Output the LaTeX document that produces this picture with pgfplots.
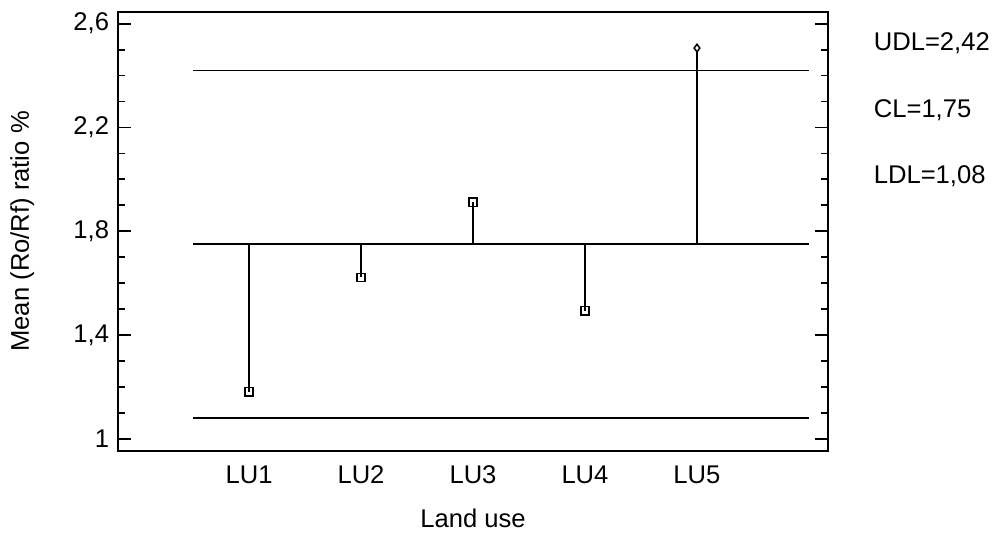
\documentclass[border=0pt]{standalone}
\usepackage{pgfplots}
\pgfplotsset{compat=1.18}
\usepackage{fontspec}
\setmainfont{Liberation Sans}
\begin{document}
\fontsize{12.8pt}{15pt}\selectfont
\begin{tikzpicture}
\begin{axis}[
  scale only axis,
  width=355pt, height=219.4pt,
  xmin=-0.17, xmax=6.17,
  ymin=0.954, ymax=2.645,
  axis line style={line width=0.9pt},
  xtick={1,2,3,4,5},
  xticklabels={LU1,LU2,LU3,LU4,LU5},
  xtick style={draw=none},
  xticklabel style={yshift=-3pt},
  ytick={1,1.4,1.8,2.2,2.6},
  minor y tick num=3,
  tick align=inside,
  ytick pos=both,
  xtick pos=bottom,
  major tick length=6.5pt,
  minor tick length=3.5pt,
  every tick/.style={black, line width=0.9pt},
  yticklabel style={/pgf/number format/.cd, use comma, fixed, precision=1},
  /pgf/number format/assume math mode=true,
  xlabel={Land use},
  ylabel={Mean (Ro/Rf) ratio \%},
  xlabel style={at={(axis description cs:0.5,-0.153)}, anchor=center},
  ylabel style={at={(axis description cs:-0.135,0.5)}, anchor=center},
  clip=false,
]
% control limits
\addplot[black, line width=0.75pt] coordinates {(0.5,2.42) (6.0,2.42)};
\addplot[black, line width=0.75pt] coordinates {(0.5,1.75) (6.0,1.75)};
\addplot[black, line width=0.75pt] coordinates {(0.5,1.08) (6.0,1.08)};
% stems
\addplot[black, line width=0.7pt] coordinates {(1,1.75) (1,1.181)};
\addplot[black, line width=0.7pt] coordinates {(2,1.75) (2,1.622)};
\addplot[black, line width=0.7pt] coordinates {(3,1.75) (3,1.912)};
\addplot[black, line width=0.7pt] coordinates {(4,1.75) (4,1.494)};
\addplot[black, line width=0.7pt] coordinates {(5,1.75) (5,2.506)};
% markers
\addplot[only marks, mark=square, mark size=2.1pt, mark options={draw=black, line width=0.75pt}]
  coordinates {(1,1.181) (2,1.622) (3,1.912) (4,1.494)};
\addplot[only marks, mark=diamond*, mark size=1.9pt, mark options={fill=white, draw=black, line width=0.75pt}]
  coordinates {(5,2.506)};
\node[anchor=west, inner sep=0pt] at (axis description cs:1.064,0.929) {UDL=2,42};
\node[anchor=west, inner sep=0pt] at (axis description cs:1.064,0.776) {CL=1,75};
\node[anchor=west, inner sep=0pt] at (axis description cs:1.064,0.626) {LDL=1,08};
\end{axis}
\pgfresetboundingbox
\path[use as bounding box] ([shift={(-59pt,-41.6pt)}]current axis.south west) rectangle ([shift={(84pt,6pt)}]current axis.north east);
\end{tikzpicture}
\end{document}
